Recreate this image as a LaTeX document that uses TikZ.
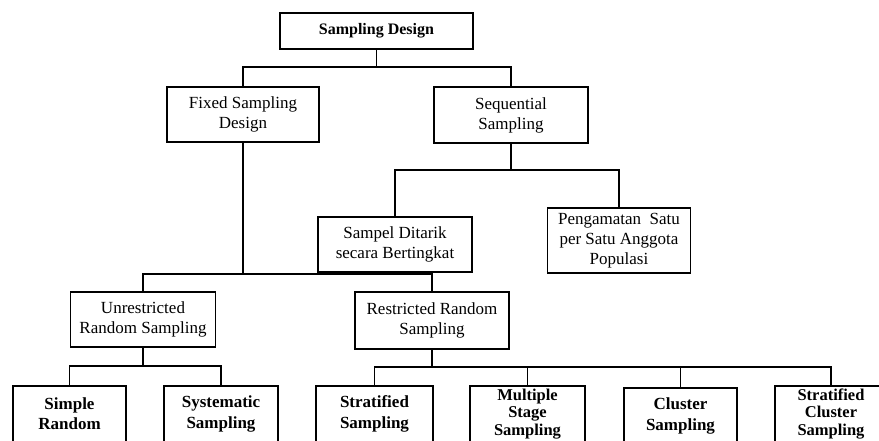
\documentclass[tikz,border=0pt]{standalone}
\usepackage{fontspec}
\setmainfont{Liberation Serif}
\begin{document}
\begin{tikzpicture}[x=1pt,y=-1pt,
  box/.style={draw, line width=1.5pt, align=center, inner sep=2pt, font=\fontsize{17}{20}\selectfont},
  leaf/.style={box, anchor=north, minimum height=56pt, font=\fontsize{17}{20.5}\selectfont\bfseries},
  leafthree/.style={leaf, inner sep=0pt, font=\fontsize{16.5}{17.5}\selectfont\bfseries},
  conn/.style={line width=1.1pt}]
\useasboundingbox (0,0) rectangle (879,440);
\clip (0,0) rectangle (879,440);
\fill[white] (0,0) rectangle (879,440);
% level 0
\node[box, minimum width=193pt, minimum height=36pt, font=\fontsize{16}{20}\selectfont\bfseries] (top) at (376.5,31) {Sampling Design};
% level 1
\node[box, minimum width=152pt, minimum height=55pt] (fixed) at (243,114.5) {Fixed Sampling\\Design};
\node[box, minimum width=154pt, minimum height=56pt] (seq) at (511,115) {Sequential\\Sampling};
% level 2
\node[box, minimum width=154pt, minimum height=55pt] (sampel) at (395,244.5) {Sampel Ditarik\\secara Bertingkat};
\node[box, minimum width=143pt, minimum height=65pt] (peng) at (619,240.5) {Pengamatan~~Satu\\per Satu Anggota\\Populasi};
\node[box, minimum width=145pt, minimum height=55pt] (unres) at (143,319.5) {Unrestricted\\Random Sampling};
\node[box, minimum width=154pt, minimum height=57pt] (restr) at (432,320.5) {Restricted Random\\Sampling};
% leaves
\node[leaf, minimum width=113pt] (simple) at (69.5,385) {Simple\\Random};
\node[leaf, minimum width=114pt] (syst) at (221,385) {Systematic\\Sampling};
\node[leaf, minimum width=117pt] (strat) at (374.5,385) {Stratified\\Sampling};
\node[leafthree, minimum width=115pt] (mult) at (527.5,385) {Multiple\\Stage\\Sampling};
\node[leaf, minimum width=113pt] (clus) at (680.5,387) {Cluster\\Sampling};
\node[leafthree, minimum width=112pt] (stratcl) at (831,385) {Stratified\\Cluster\\Sampling};
% connectors
\coordinate (j1) at (376.5,67);
\draw[conn] (top.south) -- (j1);
\draw[conn] (fixed.north) |- (j1) -| (seq.north);
\coordinate (j2) at (243,274);
\draw[conn] (fixed.south) -- (j2);
\draw[conn] (unres.north) |- (j2) -| (restr.north);
\coordinate (j3) at (511,170);
\draw[conn] (seq.south) -- (j3);
\draw[conn] (sampel.north) |- (j3) -| (peng.north);
\coordinate (j4) at (143,366);
\draw[conn] (unres.south) -- (j4);
\draw[conn] (simple.north) |- (j4) -| (syst.north);
\coordinate (j5) at (432,367);
\draw[conn] (restr.south) -- (j5);
\draw[conn] (strat.north) |- (j5) -| (stratcl.north);
\draw[conn] (mult.north) -- (mult.north |- j5);
\draw[conn] (clus.north) -- (clus.north |- j5);
\end{tikzpicture}
\end{document}
